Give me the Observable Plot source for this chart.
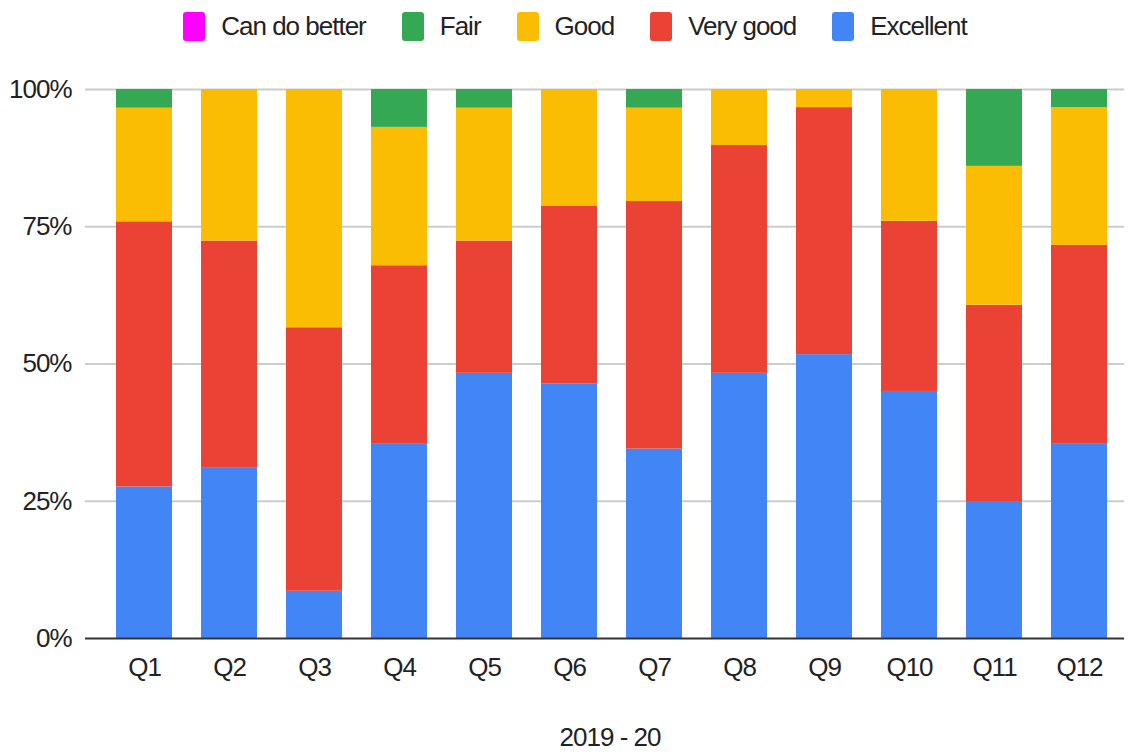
<!DOCTYPE html>
<html>
<head>
<meta charset="utf-8">
<script src="https://cdn.jsdelivr.net/npm/d3@7"></script>
<script src="https://cdn.jsdelivr.net/npm/@observablehq/plot@0.6"></script>
<style>
  html, body { margin: 0; padding: 0; background: #fff; }
  body { width: 1130px; height: 753px; overflow: hidden; font-family: Arial, "Liberation Sans", sans-serif; color: #222; }
  #legend { height: 55px; display: flex; justify-content: center; align-items: center; padding-left: 20px; padding-bottom: 2px; box-sizing: border-box; }
  .item { display: flex; align-items: center; margin-right: 36px; font-size: 26px; letter-spacing: -1px; }
  .item:last-child { margin-right: 0; }
  .sw { width: 22px; height: 29px; border-radius: 3px; margin-right: 16px; }
  #xlabel { text-align: center; font-size: 26px; letter-spacing: -1px; line-height: 30px; height: 30px; padding-top: 22px; padding-left: 90px; }
</style>
</head>
<body>
<div id="legend"></div>
<div id="chart"></div>
<div id="xlabel">2019 - 20</div>
<script>
const questions = ["Q1","Q2","Q3","Q4","Q5","Q6","Q7","Q8","Q9","Q10","Q11","Q12"];
const legendOrder = ["Can do better", "Fair", "Good", "Very good", "Excellent"];
const stackOrder = ["Excellent", "Very good", "Good", "Fair", "Can do better"];
const colors = {"Can do better": "#ff00ff", "Fair": "#34a853", "Good": "#fbbc04", "Very good": "#ea4335", "Excellent": "#4285f4"};

const excellent   = [27.6, 31.0,  8.6, 35.5, 48.3, 46.4, 34.5, 48.3, 51.7, 45.0, 24.8, 35.5];
const veryGood    = [48.3, 41.4, 48.0, 32.4, 24.1, 32.3, 45.1, 41.5, 45.0, 31.0, 35.9, 36.1];
const good        = [20.7, 27.6, 43.4, 25.2, 24.2, 21.3, 17.0, 10.2,  3.3, 24.0, 25.3, 25.1];
const fair        = [ 3.4,  0.0,  0.0,  6.9,  3.4,  0.0,  3.4,  0.0,  0.0,  0.0, 14.0,  3.3];
const canDoBetter = [ 0,    0,    0,    0,    0,    0,    0,    0,    0,    0,    0,    0  ];
const yTicks = [0, 25, 50, 75, 100];

const seriesValues = {"Excellent": excellent, "Very good": veryGood, "Good": good, "Fair": fair, "Can do better": canDoBetter};
const data = [];
for (const s of stackOrder) questions.forEach((q, i) => data.push({q, s, v: seriesValues[s][i]}));

// legend
const lg = document.getElementById("legend");
for (const s of legendOrder) {
  const it = document.createElement("div"); it.className = "item";
  const sw = document.createElement("div"); sw.className = "sw"; sw.style.background = colors[s];
  const tx = document.createElement("span"); tx.textContent = s;
  it.appendChild(sw); it.appendChild(tx); lg.appendChild(it);
}

const chart = Plot.plot({
  width: 1130,
  height: 645,
  marginTop: 34,
  marginBottom: 62,
  marginLeft: 99,
  marginRight: 6,
  style: {fontFamily: 'Arial, "Liberation Sans", sans-serif', fontSize: "26px", letterSpacing: "-1px", color: "#222", background: "#fff"},
  x: {domain: questions, paddingInner: 0.344, paddingOuter: 0.172, label: null},
  y: {domain: [0, 100], label: null},
  color: {domain: stackOrder, range: stackOrder.map(s => colors[s])},
  marks: [
    Plot.ruleY(yTicks.filter(t => t > 0), {stroke: "#cccccc", strokeWidth: 2, insetLeft: -14}),
    Plot.barY(data, Plot.stackY({x: "q", y: "v", fill: "s", order: stackOrder})),
    Plot.ruleY([0], {stroke: "#333333", strokeWidth: 2, insetLeft: -14}),
    Plot.axisX({tickSize: 0, tickPadding: 19, fontSize: 26}),
    Plot.axisY({ticks: yTicks, tickFormat: d => d + "%", tickSize: 0, tickPadding: 28, fontSize: 26})
  ]
});
document.getElementById("chart").appendChild(chart);
</script>
</body>
</html>
